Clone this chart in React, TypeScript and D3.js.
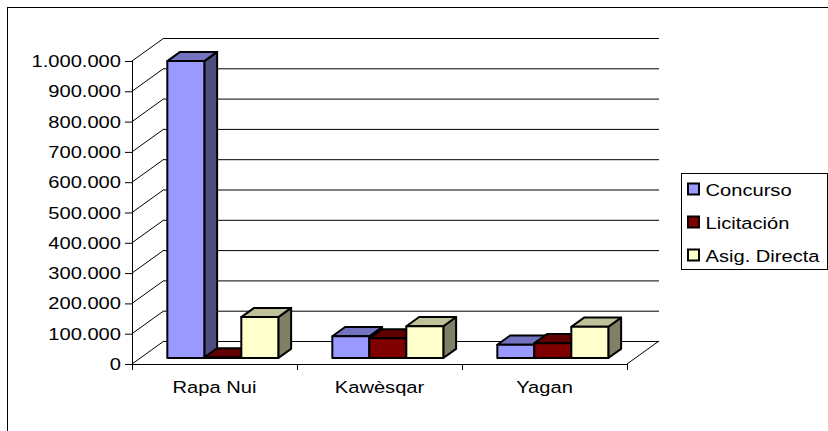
import React from 'react'
import * as d3 from 'd3'

const categories = ['Rapa Nui', 'Kawèsqar', 'Yagan']
const seriesNames = ['Concurso', 'Licitación', 'Asig. Directa']
const concurso = [980000, 72000, 44000]
const licitacion = [2000, 65000, 49000]
const asigDirecta = [135000, 105000, 103000]
const yTicks = [0, 100000, 200000, 300000, 400000, 500000, 600000, 700000, 800000, 900000, 1000000]

// front / top / side shades for each series
const palette = [
    { front: '#9999FF', top: '#7373C0', side: '#4D4D80' },
    { front: '#800000', top: '#600000', side: '#400000' },
    { front: '#FFFFCC', top: '#C0C099', side: '#808066' },
]

const W = 828
const H = 431
const left = 132
const right = 627
const base = 364
const DX = 32 // depth of the floor
const DY = 23
const z0 = 0.26 // bars sit between these depth fractions
const z1 = 0.66
const font = 'Arial, "Liberation Sans", sans-serif'
const stretch = 1.22

const fmt = (v: number) => d3.format(',')(v).replace(/,/g, '.')

function Label(props: { x: number, y: number, anchor?: string, children: React.ReactNode }) {
    return (
        <text transform={`translate(${props.x},${props.y}) scale(${stretch},1)`}
            textAnchor={props.anchor || 'start'} fontFamily={font} fontSize={16.5} fill="#000">
            {props.children}
        </text>
    )
}

export default function App() {
    const y = d3.scaleLinear().domain([0, 1000000]).range([0, 303])
    const x = d3.scaleBand<string>().domain(categories).range([left, right])
    const inner = d3.scaleBand<string>().domain(seriesNames).range([0, 111])
    const groupOff = (x.bandwidth() - 111) / 2
    const values = [concurso, licitacion, asigDirecta]

    const ddx = (z1 - z0) * DX
    const ddy = (z1 - z0) * DY

    const bars: React.ReactNode[] = []
    categories.forEach((c, ci) => {
        seriesNames.forEach((s, si) => {
            const v = values[si][ci]
            const w = inner.bandwidth()
            const bx = (x(c) as number) + groupOff + (inner(s) as number) + z0 * DX
            const by = base - z0 * DY
            const h = y(v)
            const col = palette[si]
            const top = [[bx, by - h], [bx + w, by - h], [bx + w + ddx, by - h - ddy], [bx + ddx, by - h - ddy]]
            const side = [[bx + w, by], [bx + w, by - h], [bx + w + ddx, by - h - ddy], [bx + w + ddx, by - ddy]]
            bars.push(
                <g key={c + s} stroke="#000" strokeWidth={2} strokeLinejoin="round">
                    <polygon points={side.join(' ')} fill={col.side} />
                    <polygon points={top.join(' ')} fill={col.top} />
                    <rect x={bx} y={by - h} width={w} height={h} fill={col.front} />
                </g>
            )
        })
    })

    return (
        <svg width={W} height={H} style={{ position: 'absolute', left: 0, top: 0, background: '#fff' }}>
            <rect x={7.5} y={7.5} width={W} height={H} fill="#fff" stroke="#000" strokeWidth={1} />

            {/* walls */}
            <g stroke="#000" strokeWidth={1}>
                {yTicks.map(t => (
                    <g key={t}>
                        <line x1={left + DX} x2={right + DX} y1={base - DY - y(t) + 0.5} y2={base - DY - y(t) + 0.5} />
                        <line x1={left} y1={base - y(t)} x2={left + DX} y2={base - DY - y(t)} />
                        <line x1={left - 7} x2={left} y1={base - y(t) + 0.5} y2={base - y(t) + 0.5} />
                    </g>
                ))}
                <line x1={right} y1={base} x2={right + DX} y2={base - DY} />
                <line x1={left + 0.5} x2={left + 0.5} y1={base - y(1000000)} y2={base} />
                <line x1={left} x2={right} y1={base + 0.5} y2={base + 0.5} />
                {[left, ...categories.map(c => (x(c) as number) + x.bandwidth())].map(t => (
                    <line key={t} x1={t + 0.5} x2={t + 0.5} y1={base} y2={base + 6} />
                ))}
            </g>

            {bars}

            {yTicks.map(t => (
                <Label key={t} x={121} y={base - y(t) + 6} anchor="end">{fmt(t)}</Label>
            ))}
            {categories.map(c => (
                <Label key={c} x={(x(c) as number) + x.bandwidth() / 2} y={393} anchor="middle">{c}</Label>
            ))}

            {/* legend */}
            <rect x={681.5} y={173.5} width={146} height={96} fill="#fff" stroke="#000" strokeWidth={1} />
            {seriesNames.map((s, i) => (
                <g key={s}>
                    <rect x={688} y={183.5 + i * 33} width={11} height={11} fill={palette[i].front} stroke="#000" strokeWidth={2} />
                    <Label x={705.5} y={196 + i * 33}>{s}</Label>
                </g>
            ))}
        </svg>
    )
}
